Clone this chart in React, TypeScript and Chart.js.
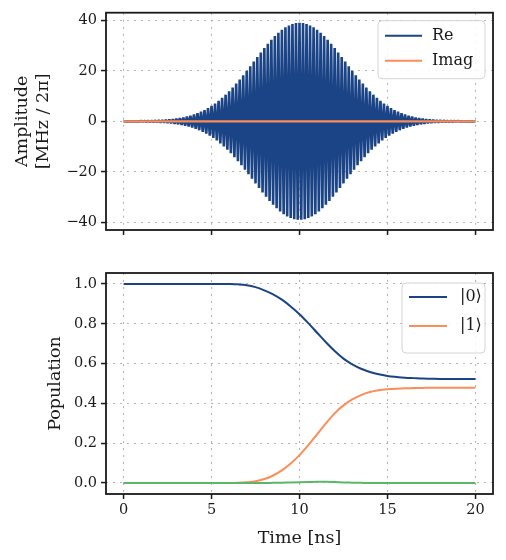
import React, { useEffect, useRef } from "react";
import { Chart, registerables } from "chart.js";
Chart.register(...registerables);

// ---------- data ----------
const RE_STEP_NS = 0.1;
const reValues = [
  0.02, -0.03, 0.03, -0.04, 0.04, -0.05, 0.06, -0.06, 0.07, -0.08,
  0.1, -0.11, 0.13, -0.14, 0.16, -0.18, 0.21, -0.24, 0.27, -0.3,
  0.34, -0.38, 0.43, -0.48, 0.54, -0.6, 0.67, -0.75, 0.84, -0.93,
  1.03, -1.15, 1.27, -1.4, 1.55, -1.71, 1.88, -2.06, 2.26, -2.48,
  2.71, -2.96, 3.23, -3.52, 3.82, -4.15, 4.5, -4.87, 5.26, -5.68,
  6.12, -6.58, 7.08, -7.59, 8.14, -8.7, 9.3, -9.92, 10.56, -11.23,
  11.92, -12.64, 13.38, -14.15, 14.93, -15.74, 16.57, -17.41, 18.27, -19.14,
  20.02, -20.92, 21.82, -22.73, 23.64, -24.55, 25.46, -26.36, 27.25, -28.13,
  29.0, -29.85, 30.68, -31.48, 32.26, -33.01, 33.73, -34.41, 35.05, -35.66,
  36.22, -36.73, 37.19, -37.61, 37.97, -38.28, 38.54, -38.74, 38.88, -38.97,
  39.0,
  -38.97, 38.88, -38.74, 38.54, -38.28, 37.97, -37.61, 37.19, -36.73, 36.22,
  -35.66, 35.05, -34.41, 33.73, -33.01, 32.26, -31.48, 30.68, -29.85, 29.0,
  -28.13, 27.25, -26.36, 25.46, -24.55, 23.64, -22.73, 21.82, -20.92, 20.02,
  -19.14, 18.27, -17.41, 16.57, -15.74, 14.93, -14.15, 13.38, -12.64, 11.92,
  -11.23, 10.56, -9.92, 9.3, -8.7, 8.14, -7.59, 7.08, -6.58, 6.12,
  -5.68, 5.26, -4.87, 4.5, -4.15, 3.82, -3.52, 3.23, -2.96, 2.71,
  -2.48, 2.26, -2.06, 1.88, -1.71, 1.55, -1.4, 1.27, -1.15, 1.03,
  -0.93, 0.84, -0.75, 0.67, -0.6, 0.54, -0.48, 0.43, -0.38, 0.34,
  -0.3, 0.27, -0.24, 0.21, -0.18, 0.16, -0.14, 0.13, -0.11, 0.1,
  -0.08, 0.07, -0.06, 0.06, -0.05, 0.04, -0.04, 0.03, -0.03, 0.02,
];
const imagTimes = [0, 20];
const imagValues = [0, 0];

const POP_STEP_NS = 0.5;
const pop0 = [
  1, 1, 1, 1, 1, 1, 1, 1, 1, 1, 1, 1, 0.9995,
  0.998, 0.994, 0.984, 0.968, 0.948, 0.921, 0.887, 0.848, 0.803, 0.755,
  0.707, 0.663, 0.625, 0.596, 0.574, 0.558, 0.546, 0.538, 0.533, 0.529,
  0.527, 0.525, 0.524, 0.523, 0.523, 0.523, 0.523, 0.523,
];
const pop1 = [
  0, 0, 0, 0, 0, 0, 0, 0, 0, 0, 0, 0, 0,
  0.001, 0.004, 0.009, 0.02, 0.038, 0.064, 0.098, 0.14, 0.19, 0.245,
  0.3, 0.35, 0.39, 0.42, 0.442, 0.457, 0.466, 0.471, 0.474, 0.476,
  0.477, 0.478, 0.479, 0.479, 0.479, 0.479, 0.479, 0.479,
];
const pop2 = [
  0, 0, 0, 0, 0, 0, 0, 0, 0, 0, 0, 0, 0, 0, 0, 0, 0,
  0.001, 0.002, 0.003, 0.004, 0.005, 0.006, 0.006, 0.005, 0.003, 0.002, 0.001,
  0, 0, 0, 0, 0, 0, 0, 0, 0, 0, 0, 0, 0,
];

const timeTicks = [0, 5, 10, 15, 20];
const ampTicks = [-40, -20, 0, 20, 40];
const popTicks = [0, 0.2, 0.4, 0.6, 0.8, 1.0];

// ---------- style ----------
const BLUE = "#1b4487";
const ORANGE = "#fc8d59";
const GREEN = "#5cb66a";
const INK = "#1a1a1a";
const FONT = "'DejaVu Serif', serif";
const TICK_SIZE = 14.5;
const LABEL_SIZE = 17.5;

const framePlugin = {
  id: "frame",
  afterDatasetsDraw(chart: any) {
    const { ctx, chartArea: a } = chart;
    ctx.save();
    ctx.strokeStyle = INK;
    ctx.lineWidth = 1.8;
    ctx.setLineDash([]);
    ctx.strokeRect(a.left, a.top, a.right - a.left, a.bottom - a.top);
    ctx.restore();
  },
};

const boxLegendPlugin = {
  id: "boxLegend",
  afterDraw(chart: any, _args: any, opts: any) {
    if (!opts || !opts.items) return;
    const { ctx, chartArea: a } = chart;
    const x0 = a.right - opts.offsetRight - opts.width;
    const y0 = a.top + opts.offsetTop;
    const w = opts.width;
    const h = opts.height;
    const r = 4;
    ctx.save();
    ctx.beginPath();
    ctx.moveTo(x0 + r, y0);
    ctx.lineTo(x0 + w - r, y0);
    ctx.quadraticCurveTo(x0 + w, y0, x0 + w, y0 + r);
    ctx.lineTo(x0 + w, y0 + h - r);
    ctx.quadraticCurveTo(x0 + w, y0 + h, x0 + w - r, y0 + h);
    ctx.lineTo(x0 + r, y0 + h);
    ctx.quadraticCurveTo(x0, y0 + h, x0, y0 + h - r);
    ctx.lineTo(x0, y0 + r);
    ctx.quadraticCurveTo(x0, y0, x0 + r, y0);
    ctx.closePath();
    ctx.fillStyle = "rgba(255,255,255,0.85)";
    ctx.fill();
    ctx.strokeStyle = "#d4d4d4";
    ctx.lineWidth = 1;
    ctx.stroke();
    opts.items.forEach((it: any, i: number) => {
      const y = y0 + opts.firstRow + i * opts.rowGap;
      ctx.strokeStyle = it.color;
      ctx.lineWidth = 2;
      ctx.beginPath();
      ctx.moveTo(x0 + opts.lineStart, y);
      ctx.lineTo(x0 + opts.lineStart + opts.lineLen, y);
      ctx.stroke();
      ctx.fillStyle = INK;
      ctx.font = `16px ${FONT}`;
      ctx.textAlign = "left";
      ctx.textBaseline = "middle";
      ctx.fillText(it.label, x0 + opts.textStart, y);
    });
    ctx.restore();
  },
};

const gridOpts = {
  color: "#b5b5b5",
  lineWidth: 1.1,
  drawTicks: true,
  tickLength: 5,
  tickColor: INK,
  tickWidth: 1.5,
};
const borderOpts = { display: false, dash: [2, 5] };

function xScale(showLabels: boolean, height: number, withTitle: boolean) {
  return {
    type: "linear" as const,
    min: -1,
    max: 21,
    afterBuildTicks: (s: any) => {
      s.ticks = timeTicks.map((v) => ({ value: v }));
    },
    afterFit: (s: any) => {
      s.height = height;
    },
    grid: gridOpts,
    border: borderOpts,
    ticks: {
      display: showLabels,
      autoSkip: false,
      maxRotation: 0,
      padding: 3,
      color: INK,
      font: { family: FONT, size: TICK_SIZE },
      callback: (v: any) => String(v),
    },
    title: {
      display: withTitle,
      text: "Time [ns]",
      color: INK,
      font: { family: FONT, size: LABEL_SIZE },
      padding: { top: 0, bottom: 11.5 },
    },
  };
}

function yScale(
  min: number,
  max: number,
  ticks: number[],
  fmt: (v: number) => string,
  title: string | string[],
  titlePad: number
) {
  return {
    type: "linear" as const,
    min,
    max,
    afterBuildTicks: (s: any) => {
      s.ticks = ticks.map((v) => ({ value: v }));
    },
    afterFit: (s: any) => {
      s.width = 106;
    },
    grid: gridOpts,
    border: borderOpts,
    ticks: {
      autoSkip: false,
      padding: 4,
      color: INK,
      font: { family: FONT, size: TICK_SIZE },
      callback: (v: any) => fmt(Number(v)),
    },
    title: {
      display: true,
      text: title,
      color: INK,
      font: { family: FONT, size: LABEL_SIZE, lineHeight: 1.2 },
      padding: { top: titlePad, bottom: 0 },
    },
  };
}

export default function App() {
  const topRef = useRef<HTMLCanvasElement>(null);
  const botRef = useRef<HTMLCanvasElement>(null);

  useEffect(() => {
    const reData = reValues.map((y, i) => ({ x: i * RE_STEP_NS, y }));
    const imagData = imagTimes.map((x, i) => ({ x, y: imagValues[i] }));
    const p0 = pop0.map((y, i) => ({ x: i * POP_STEP_NS, y }));
    const p1 = pop1.map((y, i) => ({ x: i * POP_STEP_NS, y }));
    const p2 = pop2.map((y, i) => ({ x: i * POP_STEP_NS, y }));

    const top = new Chart(topRef.current!, {
      type: "line",
      data: {
        datasets: [
          {
            label: "Re",
            data: reData,
            borderColor: BLUE,
            borderWidth: 2.6,
            borderJoinStyle: "bevel",
            pointRadius: 0,
            tension: 0,
            order: 2,
          },
          {
            label: "Imag",
            data: imagData,
            borderColor: ORANGE,
            borderWidth: 2.3,
            pointRadius: 0,
            order: 1,
          },
        ],
      },
      options: {
        responsive: false,
        animation: false,
        events: [],
        layout: { padding: { left: 0, right: 13, top: 12, bottom: 0 } },
        scales: {
          x: xScale(false, 20, false),
          y: yScale(
            -43,
            43,
            ampTicks,
            (v) => String(v).replace("-", "\u2212"),
            ["Amplitude", "[MHz / 2\u03c0]"],
            11.5
          ),
        },
        plugins: {
          legend: { display: false },
          tooltip: { enabled: false },
          boxLegend: {
            items: [
              { label: "Re", color: BLUE },
              { label: "Imag", color: ORANGE },
            ],
            offsetRight: 8,
            offsetTop: 8,
            width: 107,
            height: 58,
            firstRow: 15,
            rowGap: 25,
            lineStart: 7,
            lineLen: 37,
            textStart: 54,
          },
        } as any,
      },
      plugins: [framePlugin, boxLegendPlugin],
    });

    const bot = new Chart(botRef.current!, {
      type: "line",
      data: {
        datasets: [
          {
            label: "|0\u27e9",
            data: p0,
            borderColor: BLUE,
            borderWidth: 2,
            pointRadius: 0,
            cubicInterpolationMode: "monotone",
            order: 3,
          },
          {
            label: "|1\u27e9",
            data: p1,
            borderColor: ORANGE,
            borderWidth: 2,
            pointRadius: 0,
            cubicInterpolationMode: "monotone",
            order: 2,
          },
          {
            label: "|2\u27e9",
            data: p2,
            borderColor: GREEN,
            borderWidth: 2,
            pointRadius: 0,
            cubicInterpolationMode: "monotone",
            order: 1,
          },
        ],
      },
      options: {
        responsive: false,
        animation: false,
        events: [],
        layout: { padding: { left: 0, right: 13, top: 23, bottom: 0 } },
        scales: {
          x: xScale(true, 66, true),
          y: yScale(-0.055, 1.055, popTicks, (v) => v.toFixed(1), "Population", 44.5),
        },
        plugins: {
          legend: { display: false },
          tooltip: { enabled: false },
          boxLegend: {
            items: [
              { label: "|0\u27e9", color: BLUE },
              { label: "|1\u27e9", color: ORANGE },
            ],
            offsetRight: 8,
            offsetTop: 10,
            width: 83,
            height: 70,
            firstRow: 14,
            rowGap: 29,
            lineStart: 7,
            lineLen: 38,
            textStart: 58,
          },
        } as any,
      },
      plugins: [framePlugin, boxLegendPlugin],
    });

    return () => {
      top.destroy();
      bot.destroy();
    };
  }, []);

  return (
    <div
      style={{
        position: "absolute",
        left: 0,
        top: 0,
        width: 506,
        height: 560,
        background: "#fff",
      }}
    >
      <canvas
        ref={topRef}
        width={506}
        height={250}
        style={{ position: "absolute", left: 0, top: 0, width: 506, height: 250 }}
      />
      <canvas
        ref={botRef}
        width={506}
        height={310}
        style={{ position: "absolute", left: 0, top: 250, width: 506, height: 310 }}
      />
    </div>
  );
}
